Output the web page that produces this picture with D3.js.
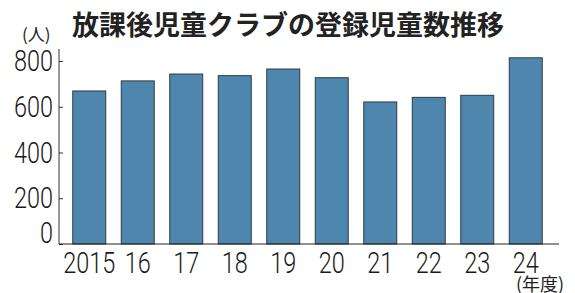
<!DOCTYPE html>
<html>
<head>
<meta charset="utf-8">
<script src="https://cdn.jsdelivr.net/npm/d3@7"></script>
<style>
  body { margin: 0; background: #fff; }
  .num { font-family: Roboto, "Liberation Sans", sans-serif; font-weight: 300; font-size: 29px; fill: #1a1a1a; }
</style>
</head>
<body>
<div id="chart"></div>
<script>
// data
var years = ["2015", "16", "17", "18", "19", "20", "21", "22", "23", "24"];
var counts = [669, 713, 743, 736, 765, 727, 621, 641, 650, 814];
var yTicks = [0, 200, 400, 600, 800];

var svgWidth = 575;
var svgHeight = 293;
var digitW = 13; // condensed digits

var svg = d3.select("#chart")
  .append("svg")
  .attr("width", svgWidth)
  .attr("height", svgHeight);

var xScale = d3.scaleBand()
  .domain(years)
  .range([65, 550])
  .paddingInner(0.32)
  .paddingOuter(0.16);

var yScale = d3.scaleLinear()
  .domain([0, 800])
  .range([244, 61]);

// title
svg.append("text")
  .attr("x", 72)
  .attr("y", 35)
  .attr("font-family", "'Noto Sans CJK JP', sans-serif")
  .attr("font-weight", "bold")
  .attr("font-size", 27)
  .attr("fill", "#222")
  .text("放課後児童クラブの登録児童数推移");

// unit labels
svg.append("text")
  .attr("x", 22)
  .attr("y", 41)
  .attr("font-family", "'Noto Sans CJK JP', sans-serif")
  .attr("font-size", 17)
  .attr("fill", "#222")
  .text("(人)");

svg.append("text")
  .attr("x", 516)
  .attr("y", 291)
  .attr("font-family", "'Noto Sans CJK JP', sans-serif")
  .attr("font-size", 18)
  .attr("fill", "#222")
  .text("(年度)");

// bars
svg.selectAll("rect.bar")
  .data(counts)
  .enter()
  .append("rect")
  .attr("class", "bar")
  .attr("x", (d, i) => xScale(years[i]))
  .attr("y", d => yScale(d))
  .attr("width", xScale.bandwidth())
  .attr("height", d => yScale(0) - yScale(d))
  .attr("fill", "#4f86ad")
  .attr("stroke", "#2b3a46")
  .attr("stroke-width", 1);

// y axis ticks
var rightAxis = d3.axisRight(yScale)
  .tickValues(yTicks)
  .tickSize(4)
  .tickFormat("");

var yAxis = svg.append("g")
  .attr("transform", "translate(59,0)")
  .call(rightAxis);
yAxis.select(".domain").remove();
yAxis.selectAll("line").attr("stroke", "#333");

svg.append("line")
  .attr("x1", 59).attr("x2", 59)
  .attr("y1", 49).attr("y2", yScale(0))
  .attr("stroke", "#333");

svg.selectAll("text.ylab")
  .data(yTicks)
  .enter()
  .append("text")
  .attr("class", "ylab num")
  .attr("x", 53)
  .attr("y", d => Math.min(yScale(d) + 10, 243))
  .attr("text-anchor", "end")
  .attr("textLength", d => String(d).length * digitW)
  .attr("lengthAdjust", "spacingAndGlyphs")
  .text(d => d);

// x axis
svg.append("line")
  .attr("x1", 59).attr("x2", 559)
  .attr("y1", yScale(0)).attr("y2", yScale(0))
  .attr("stroke", "#222")
  .attr("stroke-width", 1.2);

svg.selectAll("text.xlab")
  .data(years)
  .enter()
  .append("text")
  .attr("class", "xlab num")
  .attr("x", d => xScale(d) + xScale.bandwidth() / 2)
  .attr("y", 273)
  .attr("text-anchor", "middle")
  .attr("textLength", d => d.length * digitW)
  .attr("lengthAdjust", "spacingAndGlyphs")
  .text(d => d);
</script>
</body>
</html>
